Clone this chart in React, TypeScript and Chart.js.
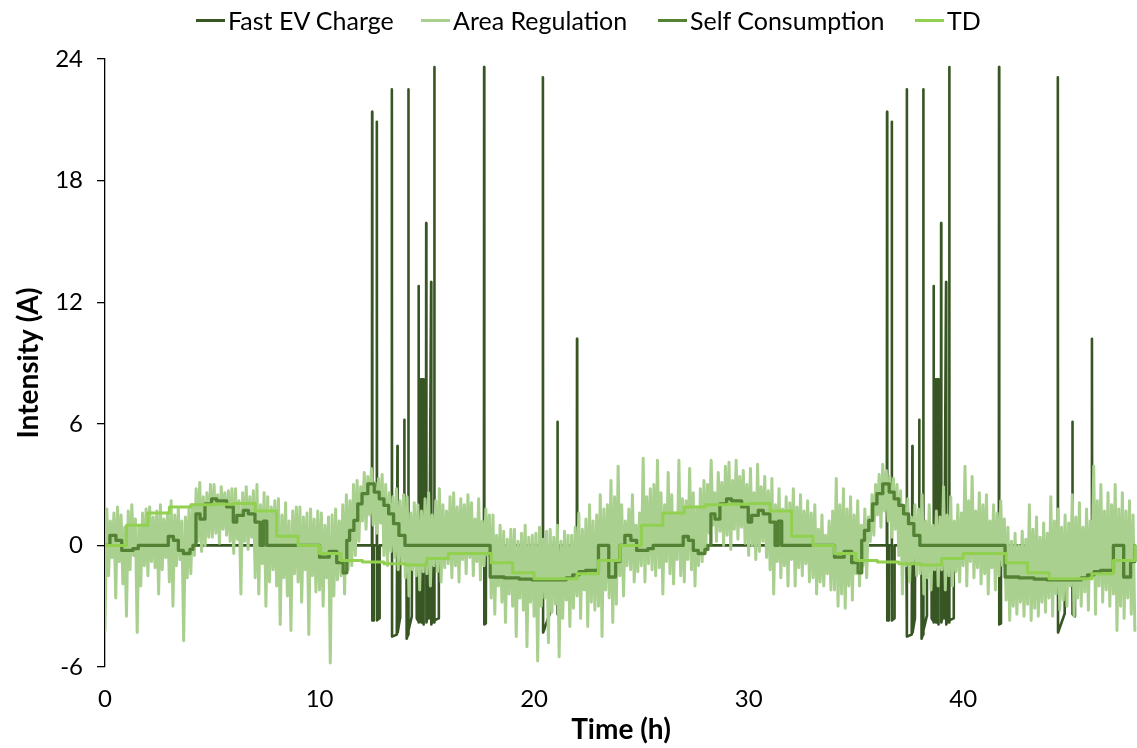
import React, { useEffect, useRef } from 'react';
import { Chart, registerables } from 'chart.js';

Chart.register(...registerables);

// ---------- colours ----------
const C_EV = '#375623';
const C_AR = '#A9D08E';
const C_SC = '#548235';
const C_TD = '#92D050';

// ---------- labels ----------
const seriesNames = ['Fast EV Charge', 'Area Regulation', 'Self Consumption', 'TD'];
const xTitle = 'Time (h)';
const yTitle = 'Intensity (A)';
const xTickValues = [0, 10, 20, 30, 40];
const yTickValues = [-6, 0, 6, 12, 18, 24];

// the daily profiles below repeat on both days of the record
const dayOffsets = [0, 24];
const recordEnd = 48;

// ---------- TD (hourly steps, one day) ----------
const tdHours = [0, 1, 2, 3, 4, 5, 6, 7, 8, 9, 10, 11, 12, 13, 14, 15, 16, 17, 18, 19, 20, 21, 22, 23];
const tdValues = [0.0, 1.0, 1.6, 1.9, 2.0, 2.03, 2.07, 1.7, 0.45, 0.0, -0.4, -0.75, -0.82, -0.9, -0.97, -0.65, -0.4, -0.4, -0.85, -1.35, -1.65, -1.65, -1.4, -0.75];

// ---------- Self Consumption (step changes, one day) ----------
const scTimes = [0, 0.23, 0.51, 0.78, 1.3, 1.55, 2.95, 3.19, 3.42, 3.65, 3.96, 4.1, 4.24, 4.43, 4.66, 4.97, 5.2, 5.67, 5.98, 6.14, 6.45, 6.68, 6.99, 7.23, 7.38, 7.54, 10.0, 10.45, 10.8, 11.1, 11.27, 11.4, 11.6, 11.78, 11.98, 12.25, 12.55, 12.78, 13.0, 13.22, 13.45, 13.7, 13.98, 17.95, 18.6, 19.3, 19.9, 21.5, 21.8, 22.1, 22.4, 23.0, 23.48, 23.8];
const scValues = [0, 0.49, 0.25, -0.25, -0.16, 0, 0.44, 0.25, -0.25, -0.4, -0.2, 0, 1.56, 1.3, 2.05, 2.3, 2.2, 1.9, 1.15, 1.48, 1.73, 1.56, 1.15, 0, 1.2, 0, -0.58, -0.3, -0.85, -1.35, 0.25, 0.74, 1.23, 2.05, 2.55, 3.04, 2.63, 2.3, 1.97, 1.56, 1.07, 0.49, 0, -1.56, -1.6, -1.66, -1.7, -1.6, -1.45, -1.3, -1.23, 0, -1.56, -0.8];

// ---------- Fast EV Charge (one day) ----------
const evTimes = [
  0, 12.44, 12.45, 12.46, 12.52, 12.53, 12.66, 12.67, 12.68, 12.79, 12.8,
  13.35, 13.37, 13.38, 13.6, 13.63, 13.64, 13.75, 13.76, 13.94, 13.95, 13.96,
  14.05, 14.06, 14.13, 14.14, 14.15, 14.3, 14.31,
  14.52, 14.53, 14.58, 14.59, 14.61, 14.62, 14.63, 14.66, 14.67,
  14.68, 14.69, 14.7, 14.73, 14.74, 14.75, 14.78, 14.79, 14.8, 14.83, 14.84, 14.86,
  14.96, 14.97, 14.98, 15.04, 15.05,
  15.1, 15.11, 15.2, 15.21, 15.27, 15.28,
  15.33, 15.34, 15.35, 15.36, 15.55, 15.56,
  17.66, 17.67, 17.68, 17.75, 17.76,
  20.4, 20.41, 20.42, 20.72, 20.73,
  21.08, 21.09, 21.1, 21.2, 21.21,
  21.99, 22.0, 22.01,
];
const evValues = [
  0, 0, 21.4, -3.7, -3.7, 0, 0, 20.9, -3.7, -3.6, 0,
  0, 22.5, -4.5, -4.4, 4.9, -4.3, -3.6, 0, 0, 6.2, 0,
  0, -4.6, -4.4, 22.5, -4.2, -3.5, 0,
  0, -3.6, -3.7, 0, 0, 12.8, -3.8, -3.7, 0,
  8.2, -3.7, 0, 8.2, -3.8, 0, 8.2, -3.6, 0, 8.2, -3.9, 0,
  0, 15.9, -3.8, -3.5, 0,
  0, -3.6, 13.0, -3.9, -3.7, 0,
  0, -3.8, 23.6, -3.7, -3.6, 0,
  0, 23.6, -3.9, -3.85, 0,
  0, 23.1, -4.3, -3.4, 0,
  0, 6.1, -3.4, -3.5, 0,
  0, 10.2, 0,
];

// ---------- Area Regulation (every 5 min) ----------
const arStep = 1 / 12;
const arDay1 = [
  -4.2, 1.8, -1.5, 1.2, -0.6, 1.6, -2.6, 1.9, -0.8, 1.5, -1.9, 0.9,
  -3.5, 1.7, -1.2, 2.0, -0.5, 1.3, -4.3, 1.0, -2.0, 1.6, -1.0, 1.8,
  -1.5, 1.9, -0.8, 1.4, -1.1, 1.7, -2.4, 2.0, -1.2, 1.3, -0.6, 1.6,
  -1.8, 2.2, -3.0, 1.5, -1.0, 1.8, -0.7, 1.2, -4.7, 1.4, -1.6, 1.9,
  -1.4, 2.0, -0.5, 2.8, 0.2, 3.1, -0.3, 2.4, 0.0, 2.6, 0.4, 3.0,
  0.4, 3.0, 0.6, 2.5, 0.1, 2.9, 0.8, 2.6, 0.5, 2.7, 0.2, 2.8,
  -0.4, 2.8, 0.3, 2.2, -2.4, 2.6, 0.2, 2.9, -0.2, 2.4, 0.4, 2.7,
  -1.6, 3.0, -2.4, 2.0, -0.9, 2.6, -3.0, 2.4, -1.8, 1.9, -1.2, 2.2,
  -2.0, 2.3, -3.9, 1.5, -1.6, 2.1, -2.5, 1.2, -4.2, 1.7, -1.4, 1.9,
  -1.8, 1.9, -2.8, 1.4, -1.2, 1.6, -4.4, 1.8, -1.5, 1.3, -2.3, 1.7,
  -2.2, 1.6, -3.0, 1.0, -1.6, 1.4, -5.8, 1.5, -2.5, 1.8, -1.7, 1.2,
  -1.5, 2.0, -2.4, 2.5, -1.2, 2.2, -1.0, 3.0, -0.5, 3.2, 0.2, 2.9,
  1.2, 3.6, 0.8, 3.4, 1.5, 3.8, 1.0, 3.1, 0.6, 3.3, 1.1, 3.5,
  -0.5, 3.0, -1.0, 2.6, -0.3, 2.4, -0.6, 2.8, -1.2, 2.2, -0.8, 2.5,
  -1.6, 2.4, -2.5, 1.6, -1.2, 2.1, -1.5, 2.0, -2.2, 1.7, -1.3, 2.3,
  -1.4, 2.6, -2.0, 1.5, -1.0, 2.2, -1.3, 2.8, -1.8, 2.0, -1.1, 1.7,
  -0.9, 2.4, -1.6, 2.6, -1.0, 1.9, -1.8, 2.3, -0.7, 2.0, -1.4, 2.5,
  -0.6, 2.1, -1.5, 1.3, -0.8, 2.3, -1.7, 1.2, -1.0, 1.8, -0.5, 1.5,
  -2.6, 1.5, -3.4, 0.5, -2.0, 1.0, -2.8, 0.7, -3.8, 0.3, -2.4, 0.8,
  -3.0, 0.8, -4.5, 0.2, -2.6, 0.6, -3.2, 1.0, -5.0, 0.4, -2.8, 0.5,
  -3.5, 0.6, -5.7, 0.9, -3.0, 0.3, -2.6, 0.7, -4.8, 0.8, -3.3, 0.4,
  -2.9, 1.0, -5.5, 0.2, -3.6, 0.7, -2.7, 0.5, -4.0, 0.5, -3.1, 0.9,
  -2.5, 1.6, -3.6, 0.8, -2.2, 1.3, -4.0, 2.0, -2.8, 1.2, -3.2, 1.5,
  -3.0, 2.5, -4.5, 1.8, -2.2, 2.0, -2.6, 3.2, -3.8, 2.4, -2.9, 3.9,
];
const arDay2 = [
  -1.5, 2.0, -2.5, 1.2, -1.0, 1.8, -1.2, 2.5, -1.8, 1.0, -1.3, 1.6,
  -1.0, 4.3, -1.8, 2.4, -0.9, 2.8, -1.2, 3.0, -1.5, 4.2, -1.1, 2.6,
  -2.4, 2.0, -0.8, 3.6, -1.4, 2.5, -1.9, 1.6, -0.7, 4.2, -1.5, 2.3,
  -1.8, 2.2, -0.7, 3.8, -1.2, 2.6, -2.0, 1.9, -1.0, 2.8, -0.8, 3.2,
  -0.3, 3.0, 0.6, 4.2, 1.0, 2.6, 0.2, 3.6, 0.7, 3.1, 0.0, 3.9,
  0.5, 4.1, -0.2, 3.2, 0.8, 4.2, 0.3, 3.4, 0.9, 3.7, 0.1, 3.0,
  -0.5, 3.8, 0.0, 2.6, -0.7, 4.0, -0.3, 2.9, 0.2, 3.4, -0.6, 2.7,
  -1.2, 3.3, -2.4, 2.0, -0.8, 2.8, -1.6, 1.8, -1.0, 2.4, -2.0, 2.1,
  -0.7, 2.8, -2.0, 1.9, -1.1, 2.5, -1.5, 1.7, -0.9, 2.2, -1.8, 1.6,
  -1.6, 2.0, -2.4, 0.8, -1.8, 1.5, -2.0, 0.5, -1.4, 1.2, -2.2, 1.7,
  -2.2, 3.3, -3.0, 2.0, -2.4, 2.8, -3.1, 1.8, -2.0, 2.4, -2.7, 1.5,
  -1.4, 2.2, -2.0, 1.0, -1.0, 1.8, -1.6, 1.4, 0.2, 2.5, 0.5, 3.0,
  1.5, 3.5, 0.9, 4.0, 1.7, 3.7, 1.2, 3.4, 0.4, 3.3, 0.8, 3.0,
  -0.5, 2.7, -2.4, 1.6, -1.0, 2.3, -1.8, 1.4, -0.8, 2.0, -1.5, 1.8,
  -1.4, 2.5, -2.4, 1.2, -1.6, 2.0, -2.2, 1.0, -1.2, 1.7, -2.0, 1.4,
  -1.2, 2.9, -2.2, 1.5, -1.5, 2.4, -2.0, 1.2, -1.3, 2.0, -1.8, 1.6,
  -1.0, 3.9, -2.0, 2.2, -0.8, 3.4, -1.6, 1.7, -1.1, 2.6, -1.9, 2.0,
  -1.4, 2.5, -2.4, 1.2, -1.1, 2.0, -2.2, 1.6, -1.5, 2.2, -1.0, 1.3,
  -2.7, 0.9, -3.7, 0.2, -3.0, 0.6, -3.4, 0.0, -2.8, 0.7, -3.5, 0.3,
  -2.9, 2.0, -3.7, 0.8, -3.1, 1.4, -3.5, 0.4, -2.8, 1.1, -3.3, 0.6,
  -2.6, 2.4, -3.5, 1.2, -2.4, 1.8, -3.2, 0.9, -2.7, 1.5, -3.0, 1.1,
  -2.0, 2.5, -3.5, 1.4, -2.6, 2.1, -3.0, 0.9, -2.3, 1.8, -3.2, 1.2,
  -1.6, 3.9, -3.4, 2.2, -2.0, 3.0, -2.8, 1.7, -2.2, 2.6, -3.0, 2.0,
  -2.4, 3.0, -4.2, 1.8, -3.0, 2.6, -3.6, 1.7, -2.6, 2.2, -3.4, 1.5,
];
const arEndValue = -4.2;

// ---------- layout (pixels) ----------
const W = 1137;
const H = 748;
const FONT = 'Lato';

const legendLayout = [
  { left: 196, color: C_EV },
  { left: 421, color: C_AR },
  { left: 658, color: C_SC },
  { left: 915, color: C_TD },
];

function repeatDaily(times: number[], values: number[]) {
  const pts: { x: number; y: number }[] = [];
  dayOffsets.forEach((d) => {
    times.forEach((t, i) => pts.push({ x: t + d, y: values[i] }));
  });
  pts.push({ x: recordEnd, y: values[0] });
  return pts;
}

export default function App() {
  const canvasRef = useRef<HTMLCanvasElement | null>(null);

  useEffect(() => {
    if (!canvasRef.current) return;
    const arAll = arDay1.concat(arDay2);
    const arPts = arAll.map((v, i) => ({ x: i * arStep, y: v }));
    arPts.push({ x: recordEnd, y: arEndValue });

    const tdPts = repeatDaily(tdHours, tdValues);
    const scPts = repeatDaily(scTimes, scValues);
    const evPts = repeatDaily(evTimes, evValues);

    const common = {
      pointRadius: 0,
      pointHoverRadius: 0,
      tension: 0,
      fill: false,
      borderCapStyle: 'round' as const,
      borderJoinStyle: 'round' as const,
    };

    // first dataset is drawn on top
    const chart = new Chart(canvasRef.current, {
      type: 'line',
      data: {
        datasets: [
          { ...common, label: seriesNames[3], data: tdPts, borderColor: C_TD, backgroundColor: C_TD, borderWidth: 3, stepped: 'before' },
          { ...common, label: seriesNames[2], data: scPts, borderColor: C_SC, backgroundColor: C_SC, borderWidth: 3.3, stepped: 'before' },
          { ...common, label: seriesNames[1], data: arPts, borderColor: C_AR, backgroundColor: C_AR, borderWidth: 3 },
          { ...common, label: seriesNames[0], data: evPts, borderColor: C_EV, backgroundColor: C_EV, borderWidth: 2.6 },
        ],
      },
      options: {
        responsive: false,
        animation: false,
        events: [],
        layout: { padding: { top: 59, left: 0, right: 0, bottom: 0 } },
        plugins: {
          legend: { display: false },
          tooltip: { enabled: false },
        },
        scales: {
          x: {
            type: 'linear',
            min: 0,
            max: 48.1,
            afterFit: (s: any) => { s.height = H - 667; },
            afterBuildTicks: (s: any) => { s.ticks = xTickValues.map((v) => ({ value: v })); },
            ticks: { font: { family: FONT, size: 24 }, color: '#000', padding: 18, maxRotation: 0, includeBounds: false },
            grid: { display: false, drawTicks: false },
            border: { display: false },
            title: { display: true, text: xTitle, color: '#000', font: { family: FONT, size: 28, weight: 'bold' }, padding: { top: 0, bottom: 1 } },
          },
          y: {
            type: 'linear',
            min: -6,
            max: 24,
            afterFit: (s: any) => { s.width = 105; },
            afterBuildTicks: (s: any) => { s.ticks = yTickValues.map((v) => ({ value: v })); },
            ticks: { font: { family: FONT, size: 24 }, color: '#000', padding: 14 },
            grid: { display: true, drawOnChartArea: false, drawTicks: true, tickLength: 8, color: '#000', lineWidth: 1.3 },
            border: { display: true, color: '#000', width: 1.3 },
            title: { display: true, text: yTitle, color: '#000', font: { family: FONT, size: 28, weight: 'bold' }, padding: { top: 12, bottom: 0 } },
          },
        },
      } as any,
    });
    return () => chart.destroy();
  }, []);

  return (
    <div style={{ position: 'absolute', left: 0, top: 0, width: W, height: H, background: '#fff', overflow: 'hidden' }}>
      <canvas ref={canvasRef} width={W} height={H} style={{ display: 'block', width: W, height: H }} />
      {legendLayout.map((it, i) => (
        <div
          key={seriesNames[i]}
          style={{
            position: 'absolute',
            left: it.left,
            top: 5,
            display: 'flex',
            alignItems: 'center',
            fontFamily: FONT,
            fontSize: 25,
            lineHeight: '30px',
            color: '#000',
            whiteSpace: 'nowrap',
          }}
        >
          <span style={{ display: 'inline-block', width: 29, height: 3, background: it.color, marginRight: 3 }} />
          <span>{seriesNames[i]}</span>
        </div>
      ))}
    </div>
  );
}
